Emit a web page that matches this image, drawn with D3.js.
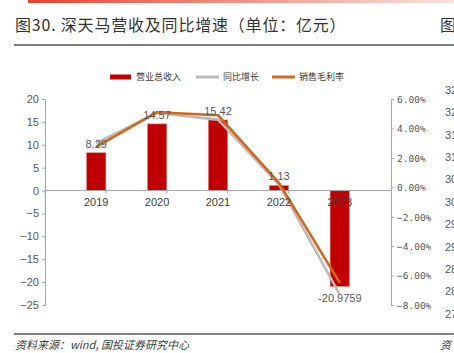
<!DOCTYPE html>
<html>
<head>
<meta charset="utf-8">
<script src="https://cdn.jsdelivr.net/npm/d3@7"></script>
<style>
  html, body { margin: 0; padding: 0; background: #fff; overflow: hidden; }
  svg { display: block; }
</style>
</head>
<body>
<div id="chart"></div>
<script>
// 数据
const years = ["2019", "2020", "2021", "2022", "2023"];
const revenue = [8.29, 14.57, 15.42, 1.13, -20.9759];   // 营业总收入（亿元）
const yoyGrowth = [3.0, 5.05, 4.6, 0.2, -7.3];          // 同比增长（%）
const grossMargin = [2.75, 5.1, 4.9, 0.3, -6.5];        // 销售毛利率（%）
const leftTicks = [20, 15, 10, 5, 0, -5, -10, -15, -20, -25];
const rightTicks = [6, 4, 2, 0, -2, -4, -6, -8];
const edgeTicks = ["32", "32", "31", "31", "30", "30", "29", "29", "28", "28", "27"];

const W = 454, H = 353;
const plot = { left: 45, right: 391, top: 99, bottom: 305 };
const numFont = "'Liberation Sans', Arial, sans-serif";
const cjkFont = "'Noto Sans CJK SC', sans-serif";

const svg = d3.select("#chart").append("svg")
  .attr("width", W).attr("height", H);

// ==== 顶部装饰条 + 标题 ====
const defs = svg.append("defs");
const grad = defs.append("linearGradient").attr("id", "topbar");
grad.append("stop").attr("offset", "0%").attr("stop-color", "#e8412e");
grad.append("stop").attr("offset", "100%").attr("stop-color", "#fbe3e0");
svg.append("rect").attr("x", 28).attr("y", 0).attr("width", W - 28).attr("height", 3)
  .attr("fill", "url(#topbar)");

svg.append("text")
  .attr("x", 15).attr("y", 31)
  .style("font-family", cjkFont).style("font-size", "16px").style("font-weight", 400)
  .style("fill", "#333").style("letter-spacing", "0.8px")
  .text("图30. 深天马营收及同比增速（单位：亿元）");
svg.append("text")
  .attr("x", 440).attr("y", 31)
  .style("font-family", cjkFont).style("font-size", "16px").style("font-weight", 400)
  .style("fill", "#333")
  .text("图");
svg.append("line").attr("x1", 14).attr("x2", W).attr("y1", 45).attr("y2", 45)
  .attr("stroke", "#555").attr("stroke-width", 1.5);

// ==== Scales ====
const x = d3.scaleBand().domain(years).range([plot.left, plot.right]).padding(0.68);
const step = x.step();
const cx = d => x(d) + x.bandwidth() / 2;

const yL = d3.scaleLinear().domain([-25, 20]).range([plot.bottom, plot.top]);
const yR = d3.scaleLinear().domain([-8, 6]).range([plot.bottom, plot.top]);

const minus = s => String(s).replace("-", "−");

// ==== Axes ====
const axL = svg.append("g")
  .attr("transform", `translate(${plot.left},0)`)
  .call(d3.axisLeft(yL).tickValues(leftTicks).tickSize(3).tickSizeOuter(3).tickPadding(3)
    .tickFormat(d => minus(d)));
axL.select(".domain").attr("stroke", "#a6a6a6");
axL.selectAll(".tick line").attr("stroke", "#a6a6a6");
axL.selectAll("text").style("font-family", numFont).style("font-size", "11px").style("fill", "#595959");

const axR = svg.append("g")
  .attr("transform", `translate(${plot.right},0)`)
  .call(d3.axisRight(yR).tickValues(rightTicks).tickSize(3).tickSizeOuter(3).tickPadding(3)
    .tickFormat(d => minus(d3.format(".2f")(d)) + "%"));
axR.select(".domain").attr("stroke", "#a6a6a6");
axR.selectAll(".tick line").attr("stroke", "#a6a6a6");
axR.selectAll("text").style("font-family", "'DejaVu Sans Mono', monospace").style("font-size", "9.5px")
  .style("fill", "#595959").attr("dy", "0.35em");

// 右侧相邻图的坐标标签（被裁切）
svg.append("g").selectAll("text")
  .data(edgeTicks)
  .enter().append("text")
    .attr("x", 445)
    .attr("y", (d, i) => 90 + i * 22.4)
    .attr("dy", "0.35em")
    .style("font-family", numFont).style("font-size", "11px").style("fill", "#595959")
    .text(d => d);

// ==== Bars ====
svg.selectAll(".bar")
  .data(years)
  .enter().append("rect")
    .attr("class", "bar")
    .attr("x", d => x(d))
    .attr("width", x.bandwidth())
    .attr("y", (d, i) => yL(Math.max(0, revenue[i])))
    .attr("height", (d, i) => Math.abs(yL(revenue[i]) - yL(0)))
    .attr("fill", "#c00000")
    .attr("stroke", "#e8a0a0").attr("stroke-width", 0.6);

// X 轴（零线）
const zeroY = yL(0);
svg.append("line").attr("x1", plot.left).attr("x2", plot.right)
  .attr("y1", zeroY).attr("y2", zeroY).attr("stroke", "#a6a6a6").attr("stroke-width", 1);
svg.selectAll(".xtick")
  .data(d3.range(years.length + 1))
  .enter().append("line")
    .attr("class", "xtick")
    .attr("x1", i => plot.left + i * step).attr("x2", i => plot.left + i * step)
    .attr("y1", zeroY).attr("y2", zeroY + 3)
    .attr("stroke", "#a6a6a6");

// ==== Lines ====
const line = d3.line()
  .x(d => cx(d.year))
  .y(d => yR(d.v));

svg.append("path")
  .datum(years.map((y, i) => ({ year: y, v: yoyGrowth[i] })))
  .attr("fill", "none").attr("stroke", "#bfb9b9").attr("stroke-width", 2.6)
  .attr("stroke-linejoin", "round")
  .attr("d", line);

svg.append("path")
  .datum(years.map((y, i) => ({ year: y, v: grossMargin[i] })))
  .attr("fill", "none").attr("stroke", "#d4661a").attr("stroke-width", 2.6)
  .attr("stroke-linejoin", "round")
  .attr("d", line);

// 类别标签
svg.selectAll(".xlab")
  .data(years)
  .enter().append("text")
    .attr("class", "xlab")
    .attr("x", d => cx(d))
    .attr("y", zeroY + 15)
    .attr("text-anchor", "middle")
    .style("font-family", numFont).style("font-size", "11px")
    .style("fill", "#404040")
    .text(d => d);

// 数据标签
svg.selectAll(".vlab")
  .data(years)
  .enter().append("text")
    .attr("class", "vlab")
    .attr("x", d => cx(d))
    .attr("y", (d, i) => revenue[i] >= 0 ? yL(revenue[i]) - 5 : yL(revenue[i]) + 15)
    .attr("text-anchor", "middle")
    .style("font-family", numFont).style("font-size", "11px").style("fill", "#595959")
    .text((d, i) => String(revenue[i]));

// ==== Legend ====
const legendItems = [
  { label: "营业总收入", color: "#c00000", type: "rect", x: 110 },
  { label: "同比增长", color: "#bfb9b9", type: "line", x: 196 },
  { label: "销售毛利率", color: "#d4661a", type: "line", x: 272 }
];
const legend = svg.append("g").attr("transform", "translate(0,77)");
const li = legend.selectAll("g").data(legendItems).enter().append("g")
  .attr("transform", d => `translate(${d.x},0)`);
li.append("rect")
  .attr("x", 0).attr("y", d => d.type === "rect" ? -2.5 : -1.5)
  .attr("width", d => d.type === "rect" ? 21 : 23)
  .attr("height", d => d.type === "rect" ? 5 : 3)
  .attr("fill", d => d.color);
li.append("text")
  .attr("x", d => d.type === "rect" ? 26 : 27).attr("y", 0).attr("dy", "0.35em")
  .style("font-family", cjkFont).style("font-size", "9px").style("fill", "#404040")
  .text(d => d.label);

// ==== Footer ====
svg.append("line").attr("x1", 14).attr("x2", W).attr("y1", 334).attr("y2", 334)
  .attr("stroke", "#555").attr("stroke-width", 1.5);
svg.append("text")
  .attr("x", 15).attr("y", 349)
  .style("font-family", cjkFont).style("font-size", "11px").style("font-style", "italic")
  .style("fill", "#404040")
  .text("资料来源：wind, 国投证券研究中心");
svg.append("text")
  .attr("x", 440).attr("y", 349)
  .style("font-family", cjkFont).style("font-size", "11px").style("font-style", "italic")
  .style("fill", "#404040")
  .text("资");
</script>
</body>
</html>
